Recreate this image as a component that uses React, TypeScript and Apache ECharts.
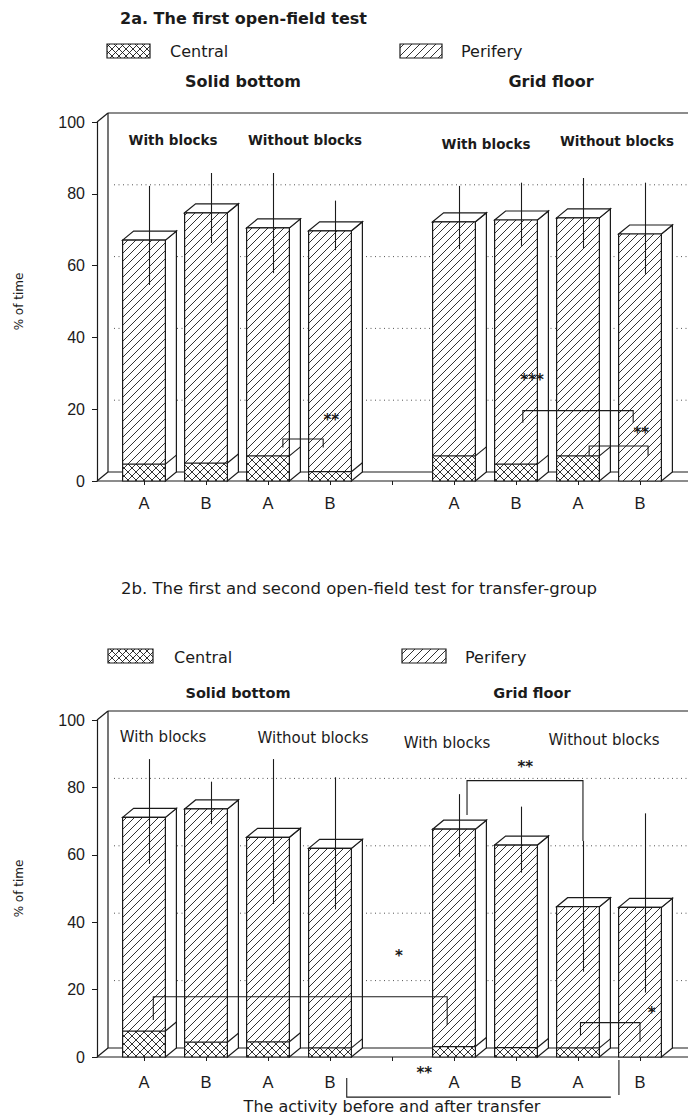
import React, { useEffect, useRef } from 'react';
import * as echarts from 'echarts';

// ---------- data ----------
const categories = ['A', 'B', 'A', 'B', '', 'A', 'B', 'A', 'B'];
const backGridValues = [20, 40, 60, 80];

// 2a. The first open-field test
const central2a = [4.7, 5.0, 7.0, 2.6, null, 7.0, 4.7, 7.0, 0];
const perifery2a = [62.4, 69.7, 63.5, 67.1, null, 65.2, 68.0, 66.3, 68.8];
const errLow2a = [54.6, 66.3, 57.9, 64.3, null, 64.6, 65.5, 64.9, 57.7];
const errHigh2a = [82.2, 85.8, 85.8, 78.1, null, 82.2, 83.1, 84.4, 83.1];

// 2b. The first and second open-field test for transfer-group
const central2b = [7.7, 4.4, 4.5, 2.7, null, 3.1, 2.8, 2.7, 0];
const perifery2b = [63.4, 69.2, 60.7, 59.2, null, 64.5, 60.1, 41.9, 44.4];
const errLow2b = [57.3, 69.1, 45.4, 43.8, null, 59.4, 54.7, 25.3, 19.1];
const errHigh2b = [88.4, 81.7, 88.4, 83.0, null, 78.0, 74.3, 64.1, 72.3];

// significance brackets: [fromIndex, toIndex, level, leftLegEnd, rightLegEnd]
const brackets2a = [
  [2.24, 2.89, 11.7, 9.3, 9.3],
  [6.11, 7.89, 19.6, 16.2, 16.2],
  [7.18, 8.13, 9.75, 7.0, 7.0],
];
const marks2a: [number, number, string][] = [
  [3.02, 17.8, '**'],
  [6.26, 29.0, '***'],
  [8.02, 14.2, '**'],
];
const brackets2b = [
  [0.15, 4.89, 17.9, 11.0, 9.5],
  [5.21, 7.08, 82.0, 71.8, 64.1],
  [7.04, 8.0, 10.2, 6.5, 4.5],
  [3.27, 7.53, -11.9, -6.2, -11.9],
  [7.66, 7.66, -11.3, -0.9, -0.9],
];
const marks2b: [number, number, string][] = [
  [4.11, 31.0, '*'],
  [6.15, 87.0, '**'],
  [8.19, 13.9, '*'],
  [4.52, -3.9, '**'],
];

// ---------- style ----------
const INK = '#1b1b1b';
const FONT = 'DejaVu Sans';
const DX = 11;
const DY = -9;
const AXIS_OFFSET = 16;
const BAR_RATIO = 0.69;

function hatchLines(x0: number, y0: number, x1: number, y1: number, dir: number, step: number) {
  const out: number[][] = [];
  if (dir === 1) {
    const cMin = x0 + y0, cMax = x1 + y1;
    for (let c = Math.ceil(cMin / step) * step; c <= cMax; c += step) {
      const xa = Math.max(x0, c - y1), xb = Math.min(x1, c - y0);
      if (xb - xa > 0.3) out.push([xa, c - xa, xb, c - xb]);
    }
  } else {
    const cMin = x0 - y1, cMax = x1 - y0;
    for (let c = Math.ceil(cMin / step) * step; c <= cMax; c += step) {
      const xa = Math.max(x0, c + y0), xb = Math.min(x1, c + y1);
      if (xb - xa > 0.3) out.push([xa, xa - c, xb, xb - c]);
    }
  }
  return out;
}

function lineEls(segs: number[][], w = 0.9) {
  return segs.map((s) => ({
    type: 'line',
    shape: { x1: s[0], y1: s[1], x2: s[2], y2: s[3] },
    style: { stroke: INK, lineWidth: w },
  }));
}

function renderFrame(params: any, api: any) {
  const cs = params.coordSys;
  const xL = cs.x - AXIS_OFFSET;
  const xR = cs.x + cs.width + 40;
  const y0 = api.coord([0, 0])[1];
  const y100 = api.coord([0, 100])[1];
  const st = { stroke: INK, lineWidth: 1.2 };
  const children: any[] = [
    { type: 'line', shape: { x1: xL + DX, y1: y100 + DY, x2: xL + DX, y2: y0 + DY }, style: st },
    { type: 'line', shape: { x1: xL + DX, y1: y100 + DY, x2: xR, y2: y100 + DY }, style: st },
    { type: 'line', shape: { x1: xL, y1: y100, x2: xL + DX, y2: y100 + DY }, style: st },
    { type: 'line', shape: { x1: xL + DX, y1: y0 + DY, x2: xR, y2: y0 + DY }, style: st },
    { type: 'line', shape: { x1: xL, y1: y0, x2: xR, y2: y0 }, style: st },
    { type: 'line', shape: { x1: xL, y1: y0, x2: xL + DX, y2: y0 + DY }, style: st },
  ];
  backGridValues.forEach((v) => {
    const y = api.coord([0, v])[1] + DY;
    children.push({
      type: 'line',
      shape: { x1: xL + DX + 6, y1: y, x2: xR, y2: y },
      style: { stroke: '#555', lineWidth: 1, lineDash: [1, 3.5] },
    });
  });
  return { type: 'group', children };
}

function renderBar(params: any, api: any) {
  const i = api.value(0);
  const c = api.value(1);
  const p = api.value(2);
  const lo = api.value(3);
  const hi = api.value(4);
  const base = api.coord([i, 0]);
  const cx = base[0];
  const y0 = base[1];
  const yc = api.coord([i, c])[1];
  const yt = api.coord([i, c + p])[1];
  const bw = api.size([1, 0])[0] * BAR_RATIO;
  const xl = cx - bw / 2;
  const xr = cx + bw / 2;
  const outline = { stroke: INK, lineWidth: 1.2 };
  const children: any[] = [];
  children.push({
    type: 'polygon',
    shape: { points: [[xr, yt], [xr + DX, yt + DY], [xr + DX, y0 + DY], [xr, y0]] },
    style: { fill: '#fff', ...outline },
  });
  children.push({
    type: 'polygon',
    shape: { points: [[xl, yt], [xl + DX, yt + DY], [xr + DX, yt + DY], [xr, yt]] },
    style: { fill: '#fff', ...outline },
  });
  if (c > 0) {
    children.push({ type: 'line', shape: { x1: xr, y1: yc, x2: xr + DX, y2: yc + DY }, style: outline });
  }
  children.push({ type: 'rect', shape: { x: xl, y: yt, width: bw, height: y0 - yt }, style: { fill: '#fff' } });
  children.push(...lineEls(hatchLines(xl, yt, xr, yc, 1, 8)));
  if (c > 0) {
    children.push(...lineEls(hatchLines(xl, yc, xr, y0, 1, 8)));
    children.push(...lineEls(hatchLines(xl, yc, xr, y0, -1, 8)));
    children.push({ type: 'line', shape: { x1: xl, y1: yc, x2: xr, y2: yc }, style: outline });
  }
  children.push({
    type: 'rect',
    shape: { x: xl, y: yt, width: bw, height: y0 - yt },
    style: { fill: 'none', ...outline },
  });
  const ex = cx + DX / 2;
  children.push({
    type: 'line',
    shape: { x1: ex, y1: api.coord([i, lo])[1], x2: ex, y2: api.coord([i, hi])[1] },
    style: { stroke: INK, lineWidth: 1.1 },
  });
  return { type: 'group', children };
}

function makeBracketRenderer(rows: number[][]) {
  return (params: any, api: any) => {
    const r = rows[params.dataIndex];
    const x0 = api.coord([0, 0])[0];
    const band = api.size([1, 0])[0];
    const px = (k: number) => x0 + k * band;
    const py = (v: number) => api.coord([0, v])[1];
    return {
      type: 'polyline',
      shape: {
        points: [
          [px(r[0]), py(r[3])],
          [px(r[0]), py(r[2])],
          [px(r[1]), py(r[2])],
          [px(r[1]), py(r[4])],
        ],
      },
      style: { stroke: INK, lineWidth: 1.1, fill: 'none' },
    };
  };
}

function makeMarkRenderer(rows: [number, number, string][]) {
  return (params: any, api: any) => {
    const r = rows[params.dataIndex];
    const x0 = api.coord([0, 0])[0];
    const band = api.size([1, 0])[0];
    const fs = 15;
    return {
      type: 'text',
      x: x0 + r[0] * band,
      y: api.coord([0, r[1]])[1] + fs * 0.22,
      style: {
        text: r[2],
        fill: INK,
        fontSize: fs,
        fontWeight: 'bold',
        fontFamily: FONT,
        align: 'center',
        verticalAlign: 'middle',
        textAlign: 'center',
        textVerticalAlign: 'middle',
      },
    };
  };
}

function barData(central: (number | null)[], peri: (number | null)[], lo: (number | null)[], hi: (number | null)[]) {
  const out: number[][] = [];
  categories.forEach((_, i) => {
    if (central[i] == null) return;
    out.push([i, central[i] as number, peri[i] as number, lo[i] as number, hi[i] as number]);
  });
  return out;
}

function text(x: number, y: number, t: string, size: number, weight: string, align = 'center') {
  return {
    type: 'text',
    x,
    y,
    style: {
      text: t,
      fill: INK,
      fontSize: size,
      fontWeight: weight,
      fontFamily: FONT,
      align,
      verticalAlign: 'middle',
      textAlign: align,
      textVerticalAlign: 'middle',
    },
  };
}

function legendBox(x: number, y: number, w: number, h: number, cross: boolean) {
  const children: any[] = [{ type: 'rect', shape: { x, y, width: w, height: h }, style: { fill: '#fff' } }];
  children.push(...lineEls(hatchLines(x, y, x + w, y + h, 1, cross ? 7 : 8)));
  if (cross) children.push(...lineEls(hatchLines(x, y, x + w, y + h, -1, 7)));
  children.push({ type: 'rect', shape: { x, y, width: w, height: h }, style: { fill: 'none', stroke: INK, lineWidth: 1.2 } });
  return { type: 'group', children };
}

export default function App() {
  const ref = useRef<HTMLDivElement>(null);
  useEffect(() => {
    document.body.style.margin = '0';
    const chart = echarts.init(ref.current!, undefined, { renderer: 'svg' });
    const grids = [
      { left: 113, top: 122, width: 558, height: 359 },
      { left: 113, top: 720, width: 558, height: 337 },
    ];
    const option: any = {
      animation: false,
      backgroundColor: '#fff',
      grid: grids,
      xAxis: [0, 1].map((g) => ({
        type: 'category',
        gridIndex: g,
        data: categories,
        axisLine: { show: false },
        axisTick: { show: true, alignWithLabel: true, interval: 0, length: 4, lineStyle: { color: INK } },
        axisLabel: { interval: 0, margin: g === 0 ? 13 : 16, fontSize: 16.5, color: INK, fontFamily: 'Liberation Sans' },
        splitLine: { show: false },
        name: g === 1 ? 'The activity before and after transfer' : '',
        nameLocation: 'middle',
        nameGap: 41,
        nameTextStyle: { fontSize: 16, color: INK, fontFamily: FONT },
      })),
      yAxis: [0, 1].map((g) => ({
        type: 'value',
        gridIndex: g,
        min: 0,
        max: 100,
        interval: 20,
        offset: AXIS_OFFSET,
        axisLine: { show: true, lineStyle: { color: INK, width: 1.2 } },
        axisTick: { show: true, length: 5, lineStyle: { color: INK } },
        axisLabel: { margin: 12, fontSize: 16, color: INK, fontFamily: 'Liberation Sans' },
        splitLine: { show: false },
        name: '% of time',
        nameLocation: 'middle',
        nameRotate: 90,
        nameGap: 72,
        nameTextStyle: { fontSize: 12, color: INK, fontFamily: FONT },
      })),
      series: [
        { type: 'custom', name: 'frame2a', xAxisIndex: 0, yAxisIndex: 0, z: 1, silent: true, data: [[0, 0]], renderItem: renderFrame },
        { type: 'custom', name: 'frame2b', xAxisIndex: 1, yAxisIndex: 1, z: 1, silent: true, data: [[0, 0]], renderItem: renderFrame },
        { type: 'custom', name: 'bars2a', xAxisIndex: 0, yAxisIndex: 0, z: 2, silent: true, data: barData(central2a, perifery2a, errLow2a, errHigh2a), renderItem: renderBar },
        { type: 'custom', name: 'bars2b', xAxisIndex: 1, yAxisIndex: 1, z: 2, silent: true, data: barData(central2b, perifery2b, errLow2b, errHigh2b), renderItem: renderBar },
        { type: 'custom', name: 'brk2a', xAxisIndex: 0, yAxisIndex: 0, z: 3, silent: true, data: brackets2a.map(() => [0, 0]), renderItem: makeBracketRenderer(brackets2a) },
        { type: 'custom', name: 'brk2b', xAxisIndex: 1, yAxisIndex: 1, z: 3, silent: true, data: brackets2b.map(() => [0, 0]), renderItem: makeBracketRenderer(brackets2b) },
        { type: 'custom', name: 'mk2a', xAxisIndex: 0, yAxisIndex: 0, z: 4, silent: true, data: marks2a.map(() => [0, 0]), renderItem: makeMarkRenderer(marks2a) },
        { type: 'custom', name: 'mk2b', xAxisIndex: 1, yAxisIndex: 1, z: 4, silent: true, data: marks2b.map(() => [0, 0]), renderItem: makeMarkRenderer(marks2b) },
      ],
      graphic: [
        text(120, 18, '2a. The first open-field test', 16, 'bold', 'left'),
        legendBox(107, 44, 43, 14, true),
        text(170, 51, 'Central', 16, 'normal', 'left'),
        legendBox(400, 44, 42, 14, false),
        text(461, 51, 'Perifery', 16, 'normal', 'left'),
        text(243, 81, 'Solid bottom', 16, 'bold'),
        text(551, 81, 'Grid floor', 16, 'bold'),
        text(173, 140, 'With blocks', 13.5, 'bold'),
        text(305, 140, 'Without blocks', 13.5, 'bold'),
        text(486, 144, 'With blocks', 13.5, 'bold'),
        text(617, 141, 'Without blocks', 13.5, 'bold'),

        text(121, 588, '2b. The first and second open-field test for transfer-group', 16.5, 'normal', 'left'),
        legendBox(108, 649, 45, 14, true),
        text(174, 657, 'Central', 16, 'normal', 'left'),
        legendBox(402, 649, 44, 14, false),
        text(465, 657, 'Perifery', 16, 'normal', 'left'),
        text(238, 693, 'Solid bottom', 14.5, 'bold'),
        text(532, 693, 'Grid floor', 14.5, 'bold'),
        text(163, 737, 'With blocks', 15, 'normal'),
        text(313, 738, 'Without blocks', 15, 'normal'),
        text(447, 743, 'With blocks', 15, 'normal'),
        text(604, 740, 'Without blocks', 15, 'normal'),
      ],
    };
    chart.setOption(option);
    return () => chart.dispose();
  }, []);
  return <div ref={ref} style={{ width: 688, height: 1117 }} />;
}
